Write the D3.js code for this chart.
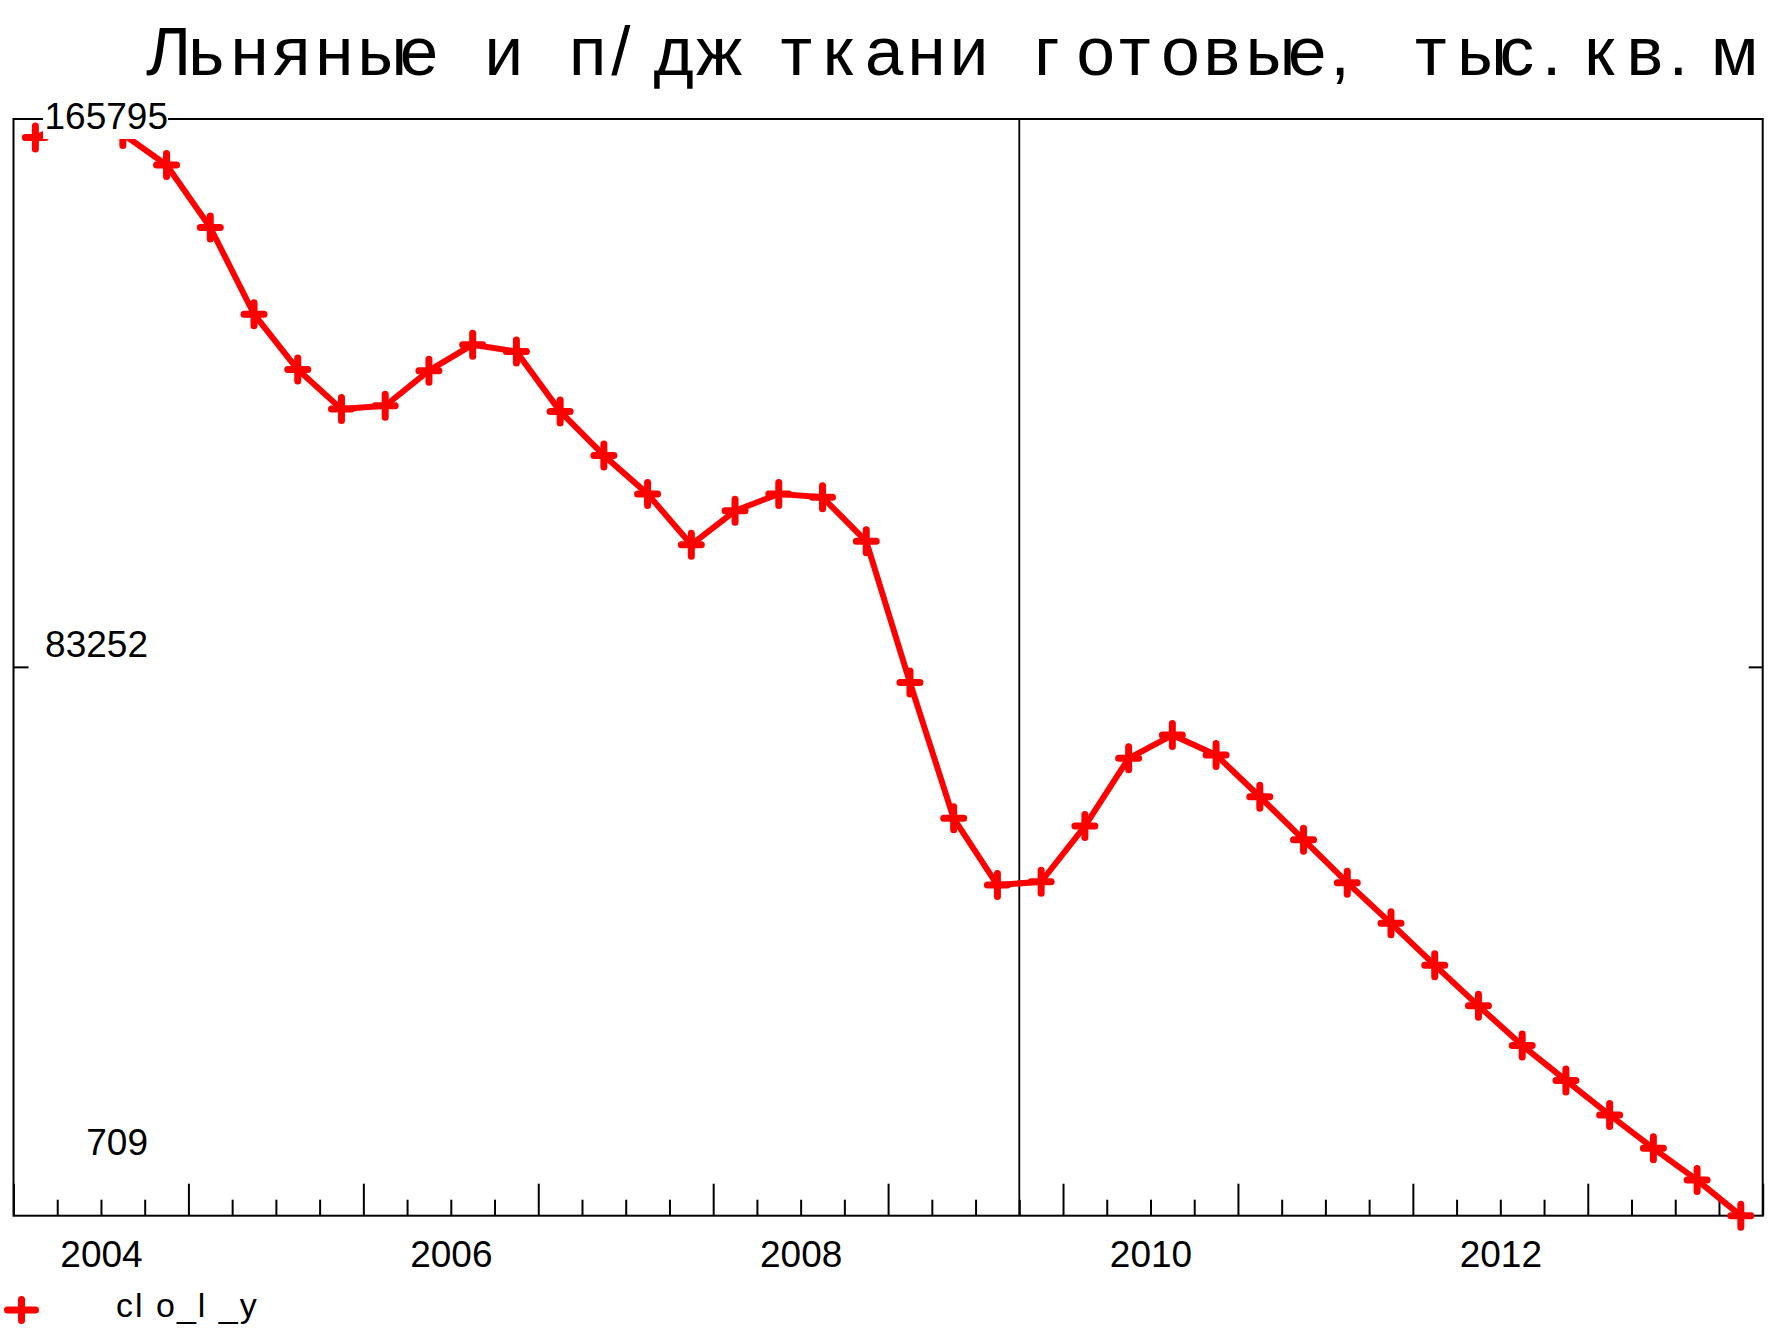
<!DOCTYPE html>
<html>
<head>
<meta charset="utf-8">
<script src="https://cdn.jsdelivr.net/npm/d3@7"></script>
<style>
  html, body { margin: 0; padding: 0; background: #fff; }
  svg { display: block; }
  text { font-family: "Liberation Sans", Arial, sans-serif; fill: #000; }
</style>
</head>
<body>
<svg id="chart" width="1772" height="1329"></svg>
<script>
// ---- data ----
const titleText = "Льняные и п/дж ткани готовые, тыс.кв.м";
const periods = [
  "2004 Q1","2004 Q2","2004 Q3","2004 Q4",
  "2005 Q1","2005 Q2","2005 Q3","2005 Q4",
  "2006 Q1","2006 Q2","2006 Q3","2006 Q4",
  "2007 Q1","2007 Q2","2007 Q3","2007 Q4",
  "2008 Q1","2008 Q2","2008 Q3","2008 Q4",
  "2009 Q1","2009 Q2","2009 Q3","2009 Q4",
  "2010 Q1","2010 Q2","2010 Q3","2010 Q4",
  "2011 Q1","2011 Q2","2011 Q3","2011 Q4",
  "2012 Q1","2012 Q2","2012 Q3","2012 Q4",
  "2013 Q1","2013 Q2","2013 Q3","2013 Q4"
];
const values = [
  163003, 165795, 163531, 158870,
  149462, 136414, 128078, 122124,
  122634, 127908, 131821, 130800,
  121783, 115149, 109365, 101709,
  106813, 109365, 108854, 102220,
  80955, 60523, 50486, 50979,
  59366, 69557, 73061, 70067,
  63773, 57308, 50843, 44719,
  38425, 32300, 26346, 21072,
  15867, 10848, 6068, 709
];
const yTickValues = [709, 83252, 165795];
const xLabelYears = [2004, 2006, 2008, 2010, 2012];
const markerLineAt = 2009.75;
const legendLabel = "cl o_l _y";

(function () {
// ---- layout ----
const pLeft = 13.5, pRight = 1762.7, pTop = 119, pBottom = 1215.7;
const svg = d3.select("#chart");

const toYear = p => { const [yr, q] = p.split(" Q"); return +yr + (+q - 0.5) / 4; };
const x = d3.scaleLinear().domain([2004, 2014]).range([pLeft, pRight]);
const y = d3.scaleLinear().domain(d3.extent(values)).range([pBottom, pTop]);

const pts = periods.map((p, i) => ({ t: toYear(p), v: values[i] }));

// frame
svg.append("rect")
  .attr("x", pLeft).attr("y", pTop)
  .attr("width", pRight - pLeft).attr("height", pBottom - pTop)
  .attr("fill", "none").attr("stroke", "#000").attr("stroke-width", 2);

// x ticks (quarters minor, years major), pointing inward
const quarterTicks = d3.range(2004, 2014.001, 0.25).filter(v => Math.abs(v - Math.round(v)) > 1e-6);
const yearTicks = d3.range(2004, 2015, 1);
const minorAxis = d3.axisBottom(x).tickValues(quarterTicks).tickSizeInner(-16).tickSizeOuter(0).tickFormat("");
const majorAxis = d3.axisBottom(x).tickValues(yearTicks).tickSizeInner(-32).tickSizeOuter(0).tickFormat("");
[minorAxis, majorAxis].forEach(ax => {
  const g = svg.append("g").attr("transform", `translate(0,${pBottom})`).call(ax);
  g.select(".domain").remove();
  g.selectAll("line").attr("stroke", "#000").attr("stroke-width", 2);
});

// x labels centred on each labelled year
const labelAxis = d3.axisBottom(x).tickValues(xLabelYears.map(v => v + 0.5))
  .tickSize(0).tickPadding(0).tickFormat(v => String(Math.round(v - 0.5)));
const lg = svg.append("g").attr("transform", `translate(0,${pBottom})`).call(labelAxis);
lg.select(".domain").remove();
lg.selectAll("text")
  .attr("y", 51).attr("dy", null)
  .style("font-family", '"Liberation Sans", Arial, sans-serif')
  .style("font-size", "37px").attr("fill", "#000");

// y ticks at middle value, left and right sides
const midVal = yTickValues[1];
svg.append("line").attr("x1", pLeft).attr("x2", pLeft + 15)
  .attr("y1", y(midVal)).attr("y2", y(midVal)).attr("stroke", "#000").attr("stroke-width", 2);
svg.append("line").attr("x1", pRight - 14).attr("x2", pRight)
  .attr("y1", y(midVal)).attr("y2", y(midVal)).attr("stroke", "#000").attr("stroke-width", 2);

// vertical reference line
svg.append("line")
  .attr("x1", x(markerLineAt)).attr("x2", x(markerLineAt))
  .attr("y1", pTop).attr("y2", pBottom)
  .attr("stroke", "#000").attr("stroke-width", 1.8);

// series line
const line = d3.line().x(d => x(d.t)).y(d => y(d.v));
svg.append("path").datum(pts)
  .attr("d", line)
  .attr("fill", "none").attr("stroke", "#ff0000")
  .attr("stroke-width", 6).attr("stroke-linejoin", "round").attr("stroke-linecap", "round");

// markers
svg.append("g").selectAll("path").data(pts).join("path")
  .attr("transform", d => `translate(${x(d.t)},${y(d.v)})`)
  .attr("d", "M-10,0H10M0,-11.5V11.5")
  .attr("stroke", "#ff0000").attr("stroke-width", 7).attr("stroke-linecap", "round")
  .attr("fill", "none");

// y labels
const yLabelSpec = [
  { v: yTickValues[0], dx: 148, dy: -60.7 },
  { v: yTickValues[1], dx: 148, dy: -10 },
  { v: yTickValues[2], dx: 168, dy: 10 }
];
// white box behind top label (covers frame and line as in the original)
svg.append("rect")
  .attr("x", 43).attr("y", 100).attr("width", 125).attr("height", 39)
  .attr("fill", "#fff");
svg.append("g").selectAll("text").data(yLabelSpec).join("text")
  .attr("x", d => d.dx)
  .attr("y", d => y(d.v) + d.dy)
  .attr("text-anchor", "end")
  .style("font-size", "37px")
  .text(d => String(d.v));

// title, character cells of fixed width
const chars = Array.from(titleText);
svg.append("g").selectAll("text").data(chars).join("text")
  .attr("x", (c, i) => 146 + i * 42.3)
  .attr("y", 75)
  .style("font-size", "69px")
  .text(c => c);

// legend
svg.append("path")
  .attr("transform", "translate(21.5,1310)")
  .attr("d", "M-14,0H14M0,-10.5V10.5")
  .attr("stroke", "#ff0000").attr("stroke-width", 7).attr("stroke-linecap", "round")
  .attr("fill", "none");
svg.append("text")
  .attr("x", 116).attr("y", 1316.7)
  .style("font-size", "34px")
  .style("letter-spacing", "2px")
  .text(legendLabel);
})();
</script>
</body>
</html>
